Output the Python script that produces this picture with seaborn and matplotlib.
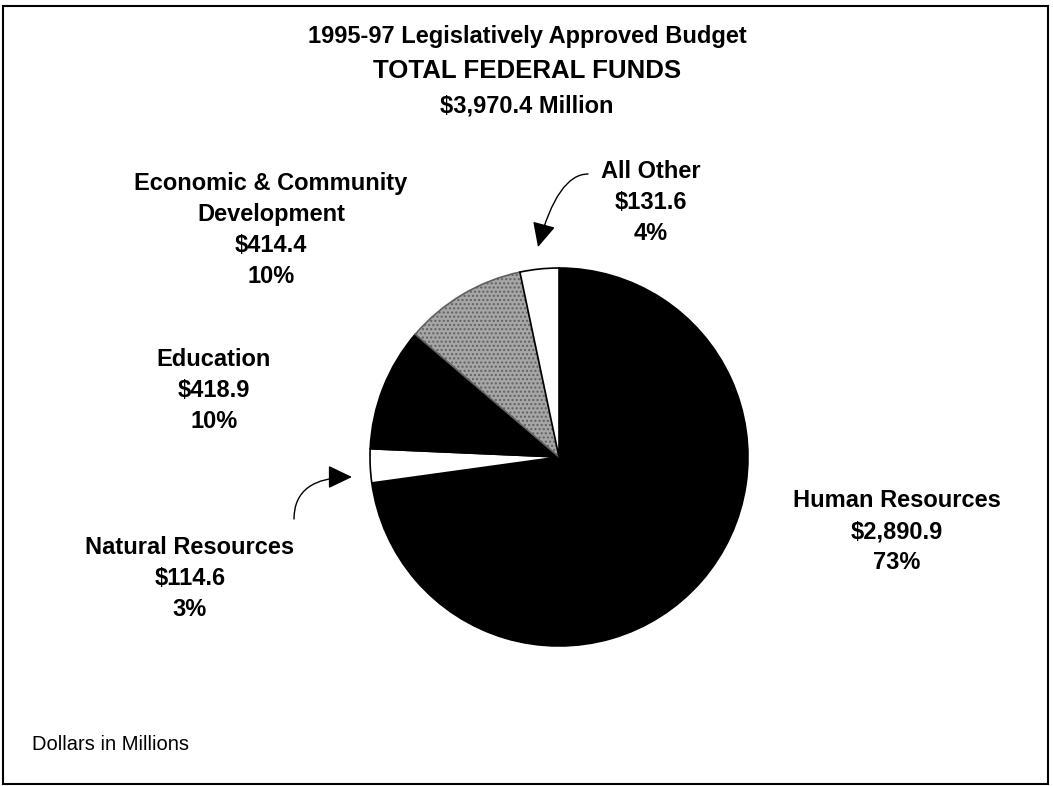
import matplotlib
matplotlib.use("Agg")
import matplotlib.pyplot as plt
import seaborn as sns
from matplotlib.patches import Rectangle

# ---- data ----
categories = ["Human Resources", "Natural Resources", "Education",
              "Economic & Community\nDevelopment", "All Other"]
amounts = [2890.9, 114.6, 418.9, 414.4, 131.6]
percents = ["73%", "3%", "10%", "10%", "4%"]
amount_labels = ["$2,890.9", "$114.6", "$418.9", "$414.4", "$131.6"]
title_lines = ["1995-97 Legislatively Approved Budget", "TOTAL FEDERAL FUNDS", "$3,970.4 Million"]
footnote = "Dollars in Millions"

sns.set_style("white")
plt.rcParams['font.family'] = ['Liberation Sans', 'DejaVu Sans']
plt.rcParams['text.color'] = 'black'

W, H = 1053, 786
fig = plt.figure(figsize=(W / 100, H / 100), dpi=100)
ax = fig.add_axes([0, 0, 1, 1])


def Y(py):
    return H - py


colors = ["black", "white", "black", "#a6a6a6", "white"]
wedges, _ = ax.pie(amounts, colors=colors, startangle=90, counterclock=False,
                   center=(559, Y(457)), radius=189,
                   wedgeprops=dict(edgecolor="black", linewidth=1.2))
wedges[3].set_hatch("....")
wedges[3].set_edgecolor("#606060")
ax.set_xlim(0, W)
ax.set_ylim(0, H)
ax.set_aspect('equal')
ax.axis('off')

# border
ax.add_patch(Rectangle((3, Y(784)), 1045, 778, fill=False, edgecolor="black", linewidth=1.5))

# title
ax.text(527, Y(43), title_lines[0], ha='center', va='baseline', fontsize=17, fontweight='bold')
ax.text(527, Y(78), title_lines[1], ha='center', va='baseline', fontsize=18.6, fontweight='bold')
ax.text(527, Y(112), title_lines[2], ha='center', va='baseline', fontsize=17, fontweight='bold')

# labels: (x center, baseline of first line)
label_pos = [(897, 507), (190, 554), (214, 366), (271, 190), (651, 178)]
lh = 31
for cat, amt, pct, (x, y) in zip(categories, amount_labels, percents, label_pos):
    lines = cat.split("\n") + [amt, pct]
    for i, ln in enumerate(lines):
        ax.text(x, Y(y + i * lh), ln, ha='center', va='baseline', fontsize=17, fontweight='bold')

# arrows
astyle = '-|>,head_length=0.75,head_width=0.36'
ax.annotate("", xy=(538, Y(247)), xytext=(588, Y(174)),
            arrowprops=dict(arrowstyle=astyle,
                            connectionstyle='angle3,angleA=0,angleB=75', color='black', lw=1.0,
                            shrinkA=0, shrinkB=0, mutation_scale=20))
ax.annotate("", xy=(352, Y(477)), xytext=(294, Y(519)),
            arrowprops=dict(arrowstyle=astyle,
                            connectionstyle='angle3,angleA=90,angleB=0', color='black', lw=1.0,
                            shrinkA=0, shrinkB=0, mutation_scale=20))

ax.text(32, Y(750), footnote, ha='left', va='baseline', fontsize=14.5)

fig.savefig("out.png", dpi=100, facecolor="white")
